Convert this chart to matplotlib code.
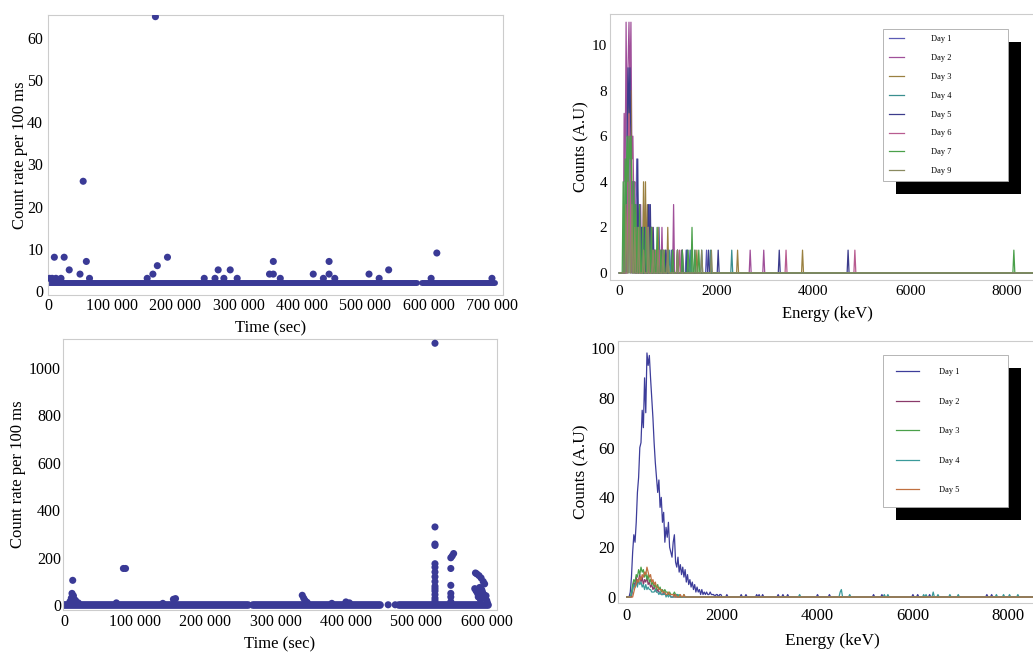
import numpy as np
import matplotlib.pyplot as plt
from matplotlib.patches import Rectangle
from matplotlib.ticker import FuncFormatter, MultipleLocator

plt.rcParams['font.family'] = ['Liberation Serif', 'DejaVu Serif']

# ---------------- count rate, first run (top left) ----------------
run1_band_start = [0, 590000]
run1_band_end = [582000, 705000]
run1_base = 2
run1_t = [2000, 6000, 9500, 12000, 20000, 25000, 33000, 50000, 55000, 60000, 65000,
          156000, 165000, 169000, 172000, 188000, 246000, 263000, 268000, 277000,
          287000, 298000, 349000, 355000, 355000, 366000, 418000, 434000, 443000,
          443000, 452000, 506000, 522000, 537000, 604000, 613000, 700000]
run1_rate = [3, 3, 8, 3, 3, 8, 5, 4, 26, 7, 3,
             3, 4, 65, 6, 8, 3, 3, 5, 3,
             5, 3, 4, 7, 4, 3, 4, 3, 7,
             4, 3, 4, 3, 5, 3, 9, 3]

# ---------------- count rate, second run (bottom left) ----------------
run2_band_start = [0, 268000, 476000]
run2_band_end = [261000, 448000, 602000]
run2_base = 2
run2_t = [8000, 10000, 11000, 12000, 13000, 14000, 16000, 20000, 74000, 84000, 87000,
          140000, 155000, 158000, 338000, 340000, 342000, 345000, 380000, 400000, 405000,
          460000, 470000,
          526500, 526500, 526500, 526500, 526500, 526500, 526500, 526500, 526500,
          526500, 526500, 526500, 526500, 526500, 526500, 526500,
          549000, 549000, 549000, 549000, 549000, 549000, 551000, 553000,
          584000, 586000, 589000, 592000, 595000, 597000,
          583000, 585000, 587000, 588000, 590000, 591000, 593000, 594000, 596000,
          598000, 599000, 600000, 601000]
run2_rate = [15, 30, 50, 105, 40, 25, 20, 10, 10, 155, 155,
             8, 25, 28, 42, 30, 20, 12, 8, 14, 10,
             2, 2,
             1104, 330, 258, 252, 175, 160, 140, 120, 100,
             80, 70, 60, 45, 30, 20, 10,
             200, 155, 84, 50, 35, 15, 208, 218,
             136, 132, 125, 115, 100, 90,
             70, 60, 50, 35, 75, 25, 65, 55, 45,
             30, 40, 20, 10]

# ---------------- spectra, first run (top right), 20 keV bins ----------------
top_bin = 20
top_emax = 8540
top_days = ['Day 1', 'Day 2', 'Day 3', 'Day 4', 'Day 5', 'Day 6', 'Day 7', 'Day 9']
top_colors = ['#5b5bb5', '#a0509a', '#9a8040', '#3a8f8f', '#3c3c8c', '#b85c90', '#4aa04a', '#8a8a60']

t_day1_e = [120, 140, 160, 180, 200, 220, 240, 260, 280, 300, 320, 340, 360, 380, 400, 420,
            460, 500, 540, 580, 620, 660, 700, 760, 820, 900, 1000, 1080, 1200, 1380, 1460, 1800]
t_day1_c = [3, 5, 4, 7, 6, 5, 4, 3, 4, 2, 3, 2, 5, 3, 2, 2,
            1, 3, 2, 1, 3, 2, 1, 1, 2, 1, 1, 1, 1, 1, 1, 1]
t_day2_e = [100, 120, 140, 160, 180, 200, 220, 240, 260, 280, 300, 320, 360, 400, 440, 480,
            520, 560, 600, 660, 720, 800, 880, 960, 1120, 1200, 1280, 2700, 2980]
t_day2_c = [7, 4, 11, 6, 9, 11, 8, 11, 5, 6, 3, 4, 3, 2, 3, 2,
            1, 2, 1, 2, 1, 1, 2, 1, 3, 1, 1, 1, 1]
t_day3_e = [120, 160, 200, 220, 240, 260, 300, 340, 380, 440, 500, 540, 580, 620, 680, 740,
            800, 880, 940, 1000, 1100, 1300, 1600, 2440, 3780]
t_day3_c = [3, 5, 8, 6, 8, 4, 3, 2, 3, 2, 4, 4, 3, 2, 2, 1,
            2, 1, 1, 2, 1, 1, 1, 1, 1]
t_day4_e = [140, 180, 220, 260, 300, 360, 420, 480, 560, 640, 720, 900, 1040, 1400, 1480,
            1700, 1880, 2320]
t_day4_c = [2, 4, 5, 3, 2, 2, 1, 2, 1, 2, 1, 1, 1, 1, 1, 1, 1, 1]
t_day5_e = [160, 180, 200, 220, 240, 280, 320, 380, 420, 460, 520, 600, 640, 700, 780, 860,
            960, 1100, 1300, 1400, 1840, 2040, 3300, 4720]
t_day5_c = [6, 9, 7, 9, 5, 4, 3, 5, 3, 2, 2, 3, 3, 2, 1, 1,
            1, 1, 1, 1, 1, 1, 1, 1]
t_day6_e = [180, 200, 220, 260, 300, 360, 420, 500, 580, 680, 760, 840, 1000, 1240, 1560,
            3440, 4860]
t_day6_c = [5, 7, 6, 4, 3, 2, 2, 1, 2, 1, 1, 1, 1, 1, 1, 1, 1]
t_day7_e = [80, 120, 140, 160, 180, 200, 220, 240, 260, 300, 340, 380, 420, 480, 540, 600,
            660, 720, 780, 860, 920, 1000, 1100, 1200, 1300, 1420, 1500, 1560, 1640, 8140]
t_day7_c = [4, 5, 3, 6, 4, 6, 5, 6, 3, 4, 3, 2, 3, 2, 2, 2,
            2, 1, 2, 1, 1, 1, 1, 1, 1, 1, 2, 1, 1, 1]
t_day9_e = [140, 200, 260, 320, 400, 500, 600, 700, 800, 900, 1000, 1200, 1700, 1900]
t_day9_c = [3, 4, 3, 2, 2, 1, 2, 1, 1, 1, 1, 1, 1, 1]

# ---------------- spectra, second run (bottom right), 25 keV bins ----------------
bot_bin = 25
bot_emax = 8525
bot_days = ['Day 1', 'Day 2', 'Day 3', 'Day 4', 'Day 5']
bot_colors = ['#3d3d9a', '#8a3a6a', '#4aa04a', '#3a9a9a', '#c07040']

b_day1_start = 75
b_day1 = [2, 8, 18, 25, 22, 30, 42, 48, 60, 62, 75, 68, 88, 74, 98, 93, 97, 88, 80, 72,
          62, 54, 48, 42, 47, 36, 40, 30, 34, 22, 28, 24, 30, 20, 18, 16, 22, 25, 14, 12,
          16, 10, 13, 9, 12, 8, 11, 6, 9, 5, 7, 4, 6, 3, 5, 2, 4, 2, 3, 1,
          3, 1, 2, 1, 2, 1, 1, 2, 1, 1, 1, 0, 1, 1, 0, 1, 1]
b_day1_tail_e = [2100, 2400, 2500, 2725, 2775, 2850, 3175, 3275, 3375, 4000, 4250, 5175,
                 5350, 6000, 6100, 6350, 7550, 7650]
b_day1_tail_c = [1, 1, 1, 1, 1, 1, 1, 1, 1, 1, 1, 1, 1, 1, 1, 1, 1, 1]
b_day2_start = 100
b_day2 = [0, 3, 6, 4, 8, 5, 7, 9, 6, 8, 5, 7, 6, 8, 5, 6, 4, 5, 3, 4,
          3, 2, 3, 2, 2, 1, 1, 2, 1, 1, 1, 1, 1, 0, 0, 0, 1]
b_day3_start = 100
b_day3 = [2, 5, 7, 6, 9, 8, 11, 9, 12, 10, 11, 8, 10, 7, 9, 6, 7, 5, 6, 4,
          5, 3, 5, 3, 4, 2, 3, 2, 3, 2, 2, 1, 2, 1, 1, 1, 2, 1, 1, 0, 1, 0, 0, 0, 1]
b_day4_start = 100
b_day4 = [1, 3, 5, 4, 6, 4, 7, 5, 6, 4, 5, 3, 5, 3, 4, 3, 3, 2, 2, 2,
          3, 2, 2, 1, 2, 1, 1, 1, 2, 0, 1, 0, 1, 0, 0, 0, 0, 0, 1, 1]
b_day4_tail_e = [3625, 4475, 4500, 4675, 5400, 5475, 6225, 6275, 6425, 6525, 6775, 6950,
                 7750, 7900, 8025, 8200]
b_day4_tail_c = [1, 2, 3, 1, 1, 1, 1, 1, 2, 1, 1, 1, 1, 1, 1, 1]
b_day5_start = 150
b_day5 = [2, 4, 5, 7, 6, 8, 7, 9, 8, 10, 9, 12, 10, 8, 9, 6, 7, 5, 6, 4,
          4, 3, 3, 3, 2, 2, 2, 1, 1, 2, 1, 1, 1, 1, 0, 1, 0, 0, 0, 1, 0, 0, 1]

FRAME = '#cccccc'
DOT = '#3a3a96'


def sparse_spectrum(energies, counts, width, emax):
    grid = np.arange(0, emax + width, width)
    y = np.zeros(len(grid))
    y[np.round(np.asarray(energies) / width).astype(int)] = counts
    return grid, y


def dense_spectrum(start, counts, width, emax, tail_e=(), tail_c=()):
    energies = start + width * np.arange(len(counts))
    e = np.concatenate([energies, np.asarray(tail_e, dtype=float)])
    c = np.concatenate([np.asarray(counts, dtype=float), np.asarray(tail_c, dtype=float)])
    return sparse_spectrum(e, c, width, emax)


def style(ax, tick_size, ypad, xpad):
    for s in ax.spines.values():
        s.set_color(FRAME)
        s.set_linewidth(0.8)
    ax.tick_params(length=0, labelsize=tick_size)
    ax.tick_params(axis='y', pad=ypad)
    ax.tick_params(axis='x', pad=xpad)


def thousands(v, pos):
    if v == 0:
        return '0'
    return f'{int(v):,}'.replace(',', ' ')


def add_shadow(fig, ax, leg, off=13):
    fig.canvas.draw()
    bb = leg.get_window_extent()
    inv = ax.transAxes.inverted()
    (x0, y0), (x1, y1) = inv.transform([(bb.x0 + off, bb.y0 - off), (bb.x1 + off, bb.y1 - off)])
    ax.add_patch(Rectangle((x0, y0), x1 - x0, y1 - y0, transform=ax.transAxes,
                           facecolor='black', edgecolor='none', zorder=4.9, clip_on=False))


fig = plt.figure(figsize=(10.33, 6.52), dpi=100)

# --- top left
ax1 = fig.add_axes([0.04647, 0.54755, 0.44046, 0.42945])
ax1.hlines([run1_base] * len(run1_band_start), run1_band_start, run1_band_end,
           color=DOT, lw=4.3, capstyle='round')
ax1.scatter(run1_t, run1_rate, s=26, color=DOT, edgecolors='none', zorder=3)
ax1.set_xlim(-500, 717400)
ax1.set_ylim(-0.95, 65.4)
ax1.xaxis.set_major_locator(MultipleLocator(100000))
ax1.xaxis.set_major_formatter(FuncFormatter(thousands))
ax1.yaxis.set_major_locator(MultipleLocator(10))
style(ax1, 11.5, 3.5, 2.5)
ax1.set_xlabel('Time (sec)', fontsize=12)
ax1.set_ylabel('Count rate per 100 ms', fontsize=12)
ax1.xaxis.set_label_coords(0.49, -0.089)
ax1.yaxis.set_label_coords(-0.044, 0.5)

# --- bottom left
ax2 = fig.add_axes([0.06099, 0.06442, 0.42014, 0.41564])
ax2.hlines([run2_base] * len(run2_band_start), run2_band_start, run2_band_end,
           color=DOT, lw=5.6, capstyle='round')
ax2.scatter(run2_t, run2_rate, s=26, color=DOT, edgecolors='none', zorder=3)
ax2.set_xlim(-1800, 614600)
ax2.set_ylim(-20, 1122)
ax2.xaxis.set_major_locator(MultipleLocator(100000))
ax2.xaxis.set_major_formatter(FuncFormatter(thousands))
ax2.yaxis.set_major_locator(MultipleLocator(200))
style(ax2, 11.5, 1.5, 3)
ax2.set_xlabel('Time (sec)', fontsize=12)
ax2.set_ylabel('Count rate per 100 ms', fontsize=12)
ax2.xaxis.set_label_coords(0.50, -0.096)
ax2.yaxis.set_label_coords(-0.085, 0.5)

# --- top right
ax3 = fig.add_axes([0.59051, 0.57055, 0.40949, 0.40798])
top_e = [t_day1_e, t_day2_e, t_day3_e, t_day4_e, t_day5_e, t_day6_e, t_day7_e, t_day9_e]
top_c = [t_day1_c, t_day2_c, t_day3_c, t_day4_c, t_day5_c, t_day6_c, t_day7_c, t_day9_c]
for name, col, e, c in zip(top_days, top_colors, top_e, top_c):
    x, y = sparse_spectrum(e, c, top_bin, top_emax)
    ax3.plot(x, y, color=col, lw=0.9, label=name)
ax3.set_xlim(-192, 8535)
ax3.set_ylim(-0.31, 11.36)
ax3.xaxis.set_major_locator(MultipleLocator(2000))
ax3.yaxis.set_major_locator(MultipleLocator(2))
style(ax3, 11, 2, 3.5)
ax3.spines['right'].set_visible(False)
ax3.set_xlabel('Energy (keV)', fontsize=12)
ax3.set_ylabel('Counts (A.U)', fontsize=12)
ax3.xaxis.set_label_coords(0.513, -0.098)
ax3.yaxis.set_label_coords(-0.048, 0.5)
leg3 = ax3.legend(loc='upper left', bbox_to_anchor=(0.645, 0.0, 0.2955, 0.9436), mode='expand',
                  borderaxespad=0, fontsize=6, frameon=True, fancybox=False, framealpha=1,
                  edgecolor='#aaaaaa', borderpad=0.75, labelspacing=1.3, handlelength=1.8,
                  handletextpad=3.2)
leg3.get_frame().set_linewidth(0.6)
leg3.set_zorder(5)

# --- bottom right
ax4 = fig.add_axes([0.59826, 0.07515, 0.40174, 0.40184])
bot_series = [
    dense_spectrum(b_day1_start, b_day1, bot_bin, bot_emax, b_day1_tail_e, b_day1_tail_c),
    dense_spectrum(b_day2_start, b_day2, bot_bin, bot_emax),
    dense_spectrum(b_day3_start, b_day3, bot_bin, bot_emax),
    dense_spectrum(b_day4_start, b_day4, bot_bin, bot_emax, b_day4_tail_e, b_day4_tail_c),
    dense_spectrum(b_day5_start, b_day5, bot_bin, bot_emax),
]
for name, col, (x, y) in zip(bot_days, bot_colors, bot_series):
    ax4.plot(x, y, color=col, lw=0.9, label=name)
ax4.set_xlim(-182, 8517)
ax4.set_ylim(-2.4, 102.8)
ax4.xaxis.set_major_locator(MultipleLocator(2000))
ax4.yaxis.set_major_locator(MultipleLocator(20))
style(ax4, 12, 2, 3.5)
ax4.spines['right'].set_visible(False)
ax4.set_xlabel('Energy (keV)', fontsize=12.5)
ax4.set_ylabel('Counts (A.U)', fontsize=12.5)
ax4.xaxis.set_label_coords(0.516, -0.115)
ax4.yaxis.set_label_coords(-0.069, 0.5)
leg4 = ax4.legend(loc='upper left', bbox_to_anchor=(0.6386, 0.0, 0.3012, 0.9466), mode='expand',
                  borderaxespad=0, fontsize=6, frameon=True, fancybox=False, framealpha=1,
                  edgecolor='#aaaaaa', borderpad=1.57, labelspacing=2.59, handlelength=2.8,
                  handletextpad=2.3)
leg4.get_frame().set_linewidth(0.6)
leg4.set_zorder(5)

add_shadow(fig, ax3, leg3)
add_shadow(fig, ax4, leg4)

fig.savefig('out.png', dpi=100)
